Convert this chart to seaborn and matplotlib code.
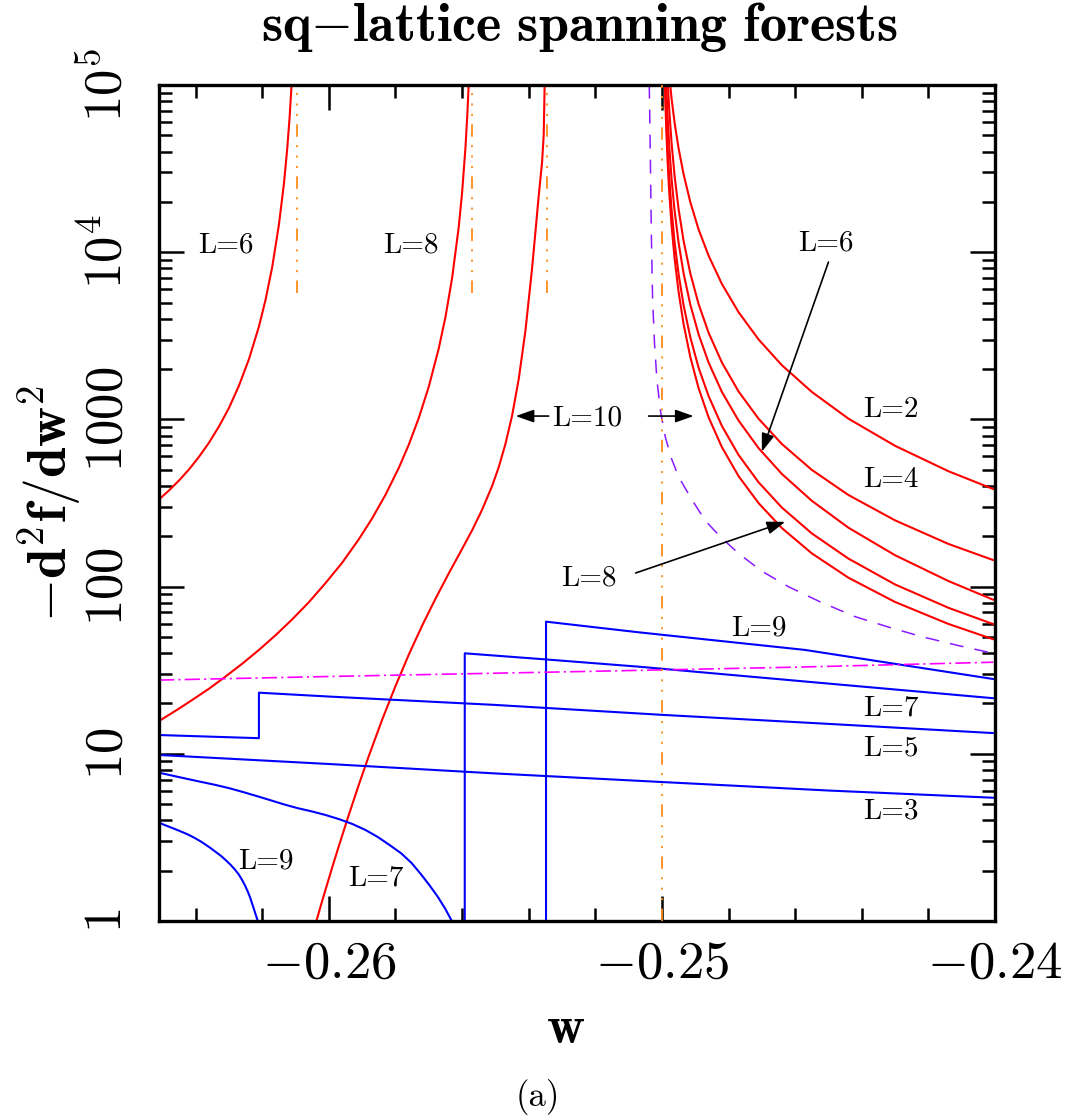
import numpy as np
import matplotlib
matplotlib.use("Agg")
import matplotlib.pyplot as plt
from matplotlib.ticker import FixedLocator, MultipleLocator, LogLocator, NullFormatter
import seaborn as sns

# ---------------- data ----------------
# even L (red, solid): left branches rising towards the poles
L6_left_x = [-0.2651, -0.2648, -0.2645, -0.2642, -0.2639, -0.2636, -0.2633, -0.2630, -0.2627, -0.2624,
             -0.2621, -0.2619, -0.2617, -0.2615, -0.26135, -0.26125, -0.26118, -0.26112, -0.26108]
L6_left_y = [332, 376, 431, 502, 597, 725, 907, 1170, 1590, 2290,
             3590, 5200, 8170, 14600, 25600, 41600, 63500, 99800, 148000]

L8_left_x = [-0.2651, -0.2646, -0.2641, -0.2636, -0.2631, -0.2626, -0.2621, -0.2616, -0.2611, -0.2606,
             -0.2601, -0.2596, -0.2591, -0.2587, -0.2583, -0.2579, -0.2576, -0.2573, -0.2570, -0.2567,
             -0.2565, -0.2563, -0.2561, -0.2560, -0.2559, -0.25584, -0.2558, -0.25576]
L8_left_y = [15.7, 18.1, 21, 24.5, 29, 34.6, 41.8, 51.2, 63.7, 80.7,
             105, 139, 192, 256, 354, 513, 706, 1020, 1570, 2660,
             4090, 6990, 14200, 22700, 41900, 68100, 103000, 182000]

L10_left_x = [-0.26045, -0.26035, -0.26025, -0.2601, -0.2599, -0.2597, -0.2594, -0.2591, -0.2588, -0.2584,
              -0.2580, -0.2576, -0.2572, -0.2568, -0.2564, -0.2560, -0.2557, -0.2554, -0.2551, -0.2549,
              -0.2547, -0.2545, -0.2543, -0.2541, -0.2539, -0.2538, -0.2537, -0.2536, -0.25355, -0.25352,
              -0.25349]
L10_left_y = [0.89, 1.04, 1.22, 1.54, 2.09, 2.81, 4.32, 6.54, 9.71, 16,
              25.4, 39.2, 58.4, 84.5, 120, 168, 217, 288, 399, 518,
              711, 1050, 1740, 3370, 7960, 13100, 21700, 34300, 50000, 104000,
              515000]

# even L (red, solid): right branches (w > -1/4), shared abscissae
right_x = [-0.24992, -0.2499, -0.24987, -0.24983, -0.24978, -0.24971, -0.24962, -0.2495, -0.24935, -0.24915,
           -0.2489, -0.2486, -0.2482, -0.2477, -0.2471, -0.2464, -0.2455, -0.2444, -0.243, -0.2414,
           -0.24005]
L2_right_y = [360000, 280000, 207000, 153000, 114000, 82800, 59500, 41800, 29300, 20000,
              13700, 9540, 6460, 4380, 3010, 2110, 1460, 1010, 695, 490, 383]
L4_right_y = [381000, 263000, 170000, 109000, 71000, 44800, 28600, 18100, 11700, 7500,
              4900, 3300, 2190, 1470, 1010, 713, 499, 353, 249, 180, 144]
L6_right_y = [228000, 158000, 102000, 65300, 42800, 27300, 17700, 11400, 7480, 4880,
              3230, 2190, 1460, 985, 674, 472, 326, 225, 154, 108, 83.4]
L8_right_y = [135000, 96000, 63900, 41900, 27800, 17900, 11500, 7390, 4820, 3110,
              2040, 1380, 914, 613, 421, 297, 208, 147, 103, 74.7, 59.6]
L10_right_y = [117000, 82200, 54000, 34900, 22800, 14400, 9170, 5790, 3720, 2370,
               1540, 1030, 683, 458, 316, 224, 158, 113, 80.9, 59.8, 48.4]

# limiting curve (violet, dashed)
Linf_x = [-0.25039, -0.25038, -0.25035, -0.25032, -0.25028, -0.25022, -0.25015, -0.25004, -0.2499,
          -0.24972, -0.2495, -0.24914, -0.2487, -0.24824, -0.2477, -0.24701, -0.2462, -0.24524,
          -0.2442, -0.2432, -0.2422, -0.2411, -0.24005]
Linf_y = [200000, 100000, 40800, 13580, 5180, 2786, 1720, 1107, 788,
          588, 454, 341, 248, 198, 158, 124, 99.8, 80.9,
          66.1, 57.3, 50.2, 44.4, 39.9]

# odd L (blue, solid)
L3_x = [-0.2651, -0.26, -0.255, -0.25, -0.245, -0.24005]
L3_y = [9.84, 8.69, 7.63, 6.78, 6.03, 5.46]
L5_x = [-0.2651, -0.2621, -0.2621, -0.26, -0.255, -0.25, -0.245, -0.24005]
L5_y = [12.95, 12.4, 23.2, 22.0, 19.6, 17.1, 15.1, 13.3]
L7_low_x = [-0.26510, -0.26468, -0.26426, -0.26384, -0.26342, -0.26300, -0.26259, -0.26218, -0.26177,
            -0.26136, -0.26095, -0.26052, -0.26011, -0.25970, -0.25930, -0.25891, -0.25853, -0.25818,
            -0.25783, -0.25752, -0.25724, -0.25698, -0.25673, -0.25650, -0.25630, -0.25616]
L7_low_y = [7.708, 7.389, 7.083, 6.794, 6.525, 6.234, 5.918, 5.598, 5.289,
            4.991, 4.738, 4.527, 4.311, 4.07, 3.808, 3.51, 3.179, 2.85,
            2.541, 2.226, 1.91, 1.637, 1.396, 1.178, 0.9926, 0.8246]
L7_up_x = [-0.25592, -0.25592, -0.2535, -0.2507, -0.245, -0.24005]
L7_up_y = [0.1, 39.9, 36.7, 33.2, 26.3, 21.5]
L9_low_x = [-0.26510, -0.26492, -0.26474, -0.26456, -0.26438, -0.26420, -0.26403, -0.26386, -0.26370,
            -0.26354, -0.26339, -0.26323, -0.26309, -0.26295, -0.26282, -0.26270, -0.26260, -0.26251,
            -0.26243, -0.26236, -0.26230, -0.26224, -0.26218, -0.26212, -0.26208, -0.26204]
L9_low_y = [3.872, 3.743, 3.625, 3.508, 3.39, 3.269, 3.139, 3.002, 2.861,
            2.72, 2.582, 2.444, 2.305, 2.168, 2.03, 1.891, 1.753, 1.62,
            1.493, 1.375, 1.263, 1.162, 1.067, 0.9804, 0.897, 0.8246]
L9_up_x = [-0.25348, -0.25348, -0.2507, -0.2457, -0.24005]
L9_up_y = [0.1, 61.7, 53.3, 41.8, 28.0]

# magenta dash-dot curve
mag_x = [-0.2651, -0.26, -0.2526, -0.2459, -0.24005]
mag_y = [27.6, 29.0, 31.0, 33.0, 35.3]

# orange vertical markers (pole positions)
pole_x = [-0.26097, -0.25569, -0.25344, -0.25]
pole_ylo = [5700, 5700, 5700, 1]
pole_yhi = [100000, 100000, 100000, 100000]

xticks = [-0.26, -0.25, -0.24]
xticklabels = [r"$-0.26$", r"$-0.25$", r"$-0.24$"]
yticks = [1, 10, 100, 1000, 1e4, 1e5]
yticklabels = [r"$1$", r"$10$", r"$100$", r"$1000$", r"$10^4$", r"$10^5$"]

# ---------------- style ----------------
sns.set_theme(style="ticks")
plt.rcParams.update({
    "font.family": "cmr10",
    "mathtext.fontset": "cm",
    "lines.scale_dashes": False,
    "axes.linewidth": 2.4,
    "axes.edgecolor": "black",
    "text.color": "black",
    "axes.labelcolor": "black",
    "xtick.color": "black",
    "ytick.color": "black",
    "xtick.labelcolor": "black",
    "ytick.labelcolor": "black",
})

RED = "#ff0000"
BLUE = "#0000ff"
VIOLET = "#8a1aff"
MAGENTA = "#ff00ff"
ORANGE = "#ff8c1a"

fig = plt.figure(figsize=(10.76, 11.19), dpi=100)
ax = fig.add_axes([159 / 1076, 1 - 921 / 1119, (995 - 159) / 1076, (921 - 85) / 1119])


def line(x, y, color, lw=1.5, ls="-", z=2):
    sns.lineplot(x=np.asarray(x, float), y=np.asarray(y, float), sort=False,
                 estimator=None, ax=ax, color=color, linewidth=lw,
                 linestyle=ls, zorder=z)


for xs, ys in [(L6_left_x, L6_left_y), (L8_left_x, L8_left_y), (L10_left_x, L10_left_y),
               (right_x, L2_right_y), (right_x, L4_right_y), (right_x, L6_right_y),
               (right_x, L8_right_y), (right_x, L10_right_y)]:
    line(xs, ys, RED)

for xs, ys in [(L3_x, L3_y), (L5_x, L5_y), (L7_low_x, L7_low_y), (L7_up_x, L7_up_y),
               (L9_low_x, L9_low_y), (L9_up_x, L9_up_y)]:
    line(xs, ys, BLUE)

line(Linf_x, Linf_y, VIOLET, lw=1.1, ls=(0, (10, 8)))
line(mag_x, mag_y, MAGENTA, lw=1.2, ls=(0, (11, 3, 1.5, 3)))
for px, lo, hi in zip(pole_x, pole_ylo, pole_yhi):
    line([px, px], [lo, hi], ORANGE, lw=1.3, ls=(0, (9, 6, 1.5, 6, 1.5, 6, 1.5, 6)), z=3)

ax.set_yscale("log")
ax.set_xlim(-0.2651, -0.24)
ax.set_ylim(1, 1e5)
ax.set_xlabel("")
ax.set_ylabel("")

ax.xaxis.set_major_locator(FixedLocator(xticks))
ax.set_xticklabels(xticklabels)
ax.xaxis.set_minor_locator(MultipleLocator(0.002))
ax.yaxis.set_major_locator(FixedLocator(yticks))
ax.set_yticklabels(yticklabels, rotation=90, va="center")
ax.yaxis.set_minor_locator(LogLocator(base=10, subs=np.arange(2, 10)))
ax.yaxis.set_minor_formatter(NullFormatter())

ax.tick_params(which="both", direction="in", top=True, right=True, width=1.8)
ax.tick_params(which="major", length=18)
ax.tick_params(which="minor", length=9.4)
ax.tick_params(axis="x", which="major", labelsize=38, pad=14)
ax.tick_params(axis="y", which="major", labelsize=38, pad=20)
for s in ax.spines.values():
    s.set_linewidth(2.4)
    s.set_visible(True)

# ---------------- labels ----------------
tk = dict(fontsize=21, ha="center", va="center", color="black", family="cmr10")
ax.text(-0.26309, 11040, "L=6", **tk)
ax.text(-0.25754, 11040, "L=8", **tk)
ax.text(-0.24509, 11350, "L=6", **tk)
ax.text(-0.24314, 1138, "L=2", **tk)
ax.text(-0.24314, 434, "L=4", **tk)
ax.text(-0.2522, 112.5, "L=8", **tk)
ax.text(-0.25223, 1019, "L=10", **tk)
ax.text(-0.2471, 56.5, "L=9", **tk)
ax.text(-0.24314, 18.8, "L=7", **tk)
ax.text(-0.24314, 10.8, "L=5", **tk)
ax.text(-0.24314, 4.55, "L=3", **tk)
ax.text(-0.26189, 2.29, "L=9", **tk)
ax.text(-0.25859, 1.81, "L=7", **tk)

ap = dict(arrowstyle="-|>,head_length=0.85,head_width=0.3", color="black", lw=1.2,
          shrinkA=0, shrinkB=0, mutation_scale=13)
ax.annotate("", xy=(-0.2470, 641), xytext=(-0.2450, 8730), arrowprops=ap)
ax.annotate("", xy=(-0.2463, 244), xytext=(-0.25079, 120.6), arrowprops=ap)
ax.annotate("", xy=(-0.25439, 1047), xytext=(-0.2534, 1047), arrowprops=ap)
ax.annotate("", xy=(-0.24905, 1047), xytext=(-0.2504, 1047), arrowprops=ap)

fig.text(580 / 1076, 1 - 41 / 1119, r"$\mathbf{sq{-}lattice\ spanning\ forests}$",
         fontsize=39, ha="center", va="baseline")
fig.text(566 / 1076, 1 - 1030 / 1119, r"$\mathbf{w}$", fontsize=38, ha="center", va="center")
fig.text(50 / 1076, 1 - 503 / 1119, r"$\mathbf{-d^2f/dw^2}$", fontsize=40,
         ha="center", va="center", rotation=90)
fig.text(538 / 1076, 1 - 1097 / 1119, "(a)", fontsize=25, ha="center", va="center", family="cmr10")

fig.savefig("out.png", dpi=100, facecolor="white")
